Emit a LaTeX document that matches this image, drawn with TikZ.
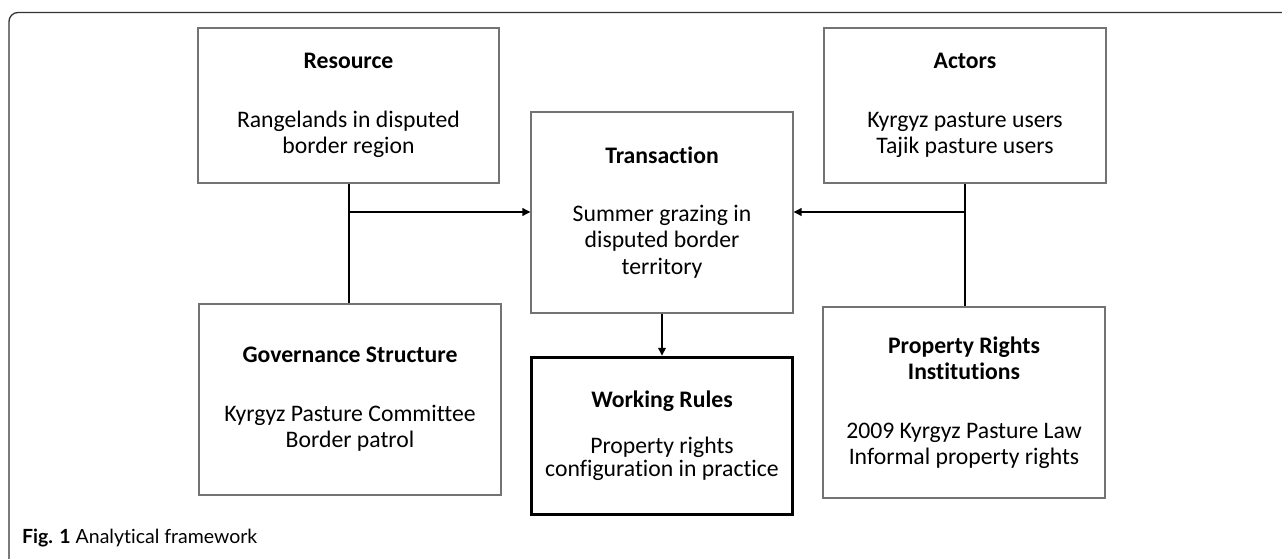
\documentclass[tikz,border=0pt]{standalone}
\usepackage{fontspec}
\setmainfont[Ligatures=NoCommon]{Carlito}
\newfontfamily\capfont[Ligatures=NoCommon]{Lato}
\usetikzlibrary{arrows.meta}
\begin{document}
\begin{tikzpicture}[x=1pt,y=-1pt,
  box/.style={draw=black!55, line width=1.1pt, inner sep=0pt, align=center,
    font=\fontsize{23.7}{26.5}\selectfont},
  keybox/.style={draw=black, line width=3.5pt, inner sep=0pt, align=center,
    font=\fontsize{23.7}{23}\selectfont},
  conn/.style={line width=2.6pt, black},
  arr/.style={conn, -{Triangle[length=8pt,width=7.5pt]}},
]
\useasboundingbox (0,0) rectangle (1282,559);
\fill[white] (0,0) rectangle (1282,559);
% outer frame
\draw[line width=1.3pt, black!80, rounded corners=9pt] (9,559) -- (9,12.5) -- (1282,12.5);

\node[box, minimum width=301pt, minimum height=155pt] (res) at (348.5,105.5)
  {\textbf{Resource}\\[32pt]Rangelands in disputed\\border region};
\node[box, minimum width=282pt, minimum height=155pt] (act) at (965,105.5)
  {\textbf{Actors}\\[32pt]Kyrgyz pasture users\\Tajik pasture users};
\node[box, minimum width=262pt, minimum height=201pt] (tra) at (662,212.5)
  {\textbf{Transaction}\\[31pt]Summer grazing in\\disputed border\\territory};
\node[box, minimum width=302pt, minimum height=191pt] (gov) at (350,399.5)
  {\textbf{Governance Structure}\\[32pt]Kyrgyz Pasture Committee\\Border patrol};
\node[box, minimum width=282pt, minimum height=191pt] (pro) at (964,402.5)
  {\textbf{Property Rights}\\\textbf{Institutions}\\[32pt]2009 Kyrgyz Pasture Law\\Informal property rights};
\node[keybox, minimum width=261pt, minimum height=157pt] (wor) at (662,436)
  {\textbf{Working Rules}\\[23pt]Property rights\\configuration in practice};

\coordinate (lj) at (349,212);
\coordinate (rj) at (965,212);
\draw[conn] (lj |- res.south) -- (lj |- gov.north);
\draw[arr] (lj) -- (lj -| tra.west);
\draw[conn] (rj |- act.south) -- (rj |- pro.north);
\draw[arr] (rj) -- (rj -| tra.east);
\draw[arr] (tra.south) -- (wor.north);

\node[anchor=base west, inner sep=0pt, font=\capfont\fontsize{19.5}{23}\selectfont] (cap) at (22,543)
  {\textbf{Fig. 1} Analytical framework};
\end{tikzpicture}
\end{document}
